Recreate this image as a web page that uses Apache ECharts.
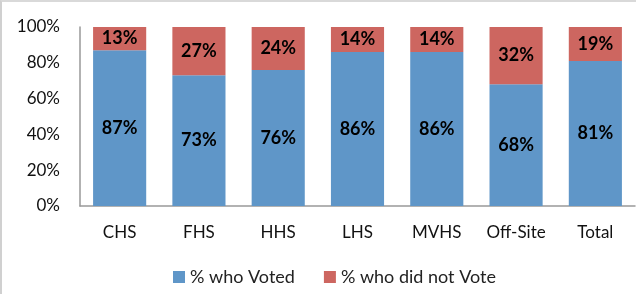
<!DOCTYPE html>
<html>
<head>
<meta charset="utf-8">
<script src="https://cdn.jsdelivr.net/npm/echarts@6/dist/echarts.min.js"></script>
<style>
  html, body { margin: 0; padding: 0; background: #fff; }
  #frame {
    position: absolute; left: 0; top: 0;
    width: 640px; height: 300px;
    border-left: 2px solid #d0d0d0;
    border-top: 2px solid #d9d9d9;
    box-sizing: border-box;
  }
  #chart { position: absolute; left: 0; top: 0; width: 636px; height: 294px; }
</style>
</head>
<body>
<div id="frame"></div>
<div id="chart"></div>
<script>
const categories = ["CHS", "FHS", "HHS", "LHS", "MVHS", "Off-Site", "Total"]
const voted = [87, 73, 76, 86, 86, 68, 81]
const notVoted = [13, 27, 24, 14, 14, 32, 19]
const yTicks = [0, 20, 40, 60, 80, 100]

const font = "Lato, 'Open Sans', sans-serif"
const labelStyle = {
  show: true,
  position: "inside",
  formatter: (p) => p.value + "%",
  color: "#000",
  fontFamily: font,
  fontWeight: "bold",
  fontSize: 18
}

const chart = echarts.init(document.getElementById("chart"), null, { renderer: "canvas" })
chart.setOption({
  animation: false,
  textStyle: { fontFamily: font },
  grid: { left: 80, right: 1, top: 27, bottom: 88, containLabel: false },
  legend: {
    bottom: 3,
    left: 168,
    itemWidth: 12,
    itemHeight: 12,
    itemGap: 29,
    icon: "rect",
    textStyle: { fontSize: 18, color: "#222", fontFamily: font, padding: [0, 0, 0, 0] },
    data: ["% who Voted", "% who did not Vote"]
  },
  xAxis: {
    type: "category",
    data: categories,
    axisLine: { lineStyle: { color: "#999", width: 1.5 } },
    axisTick: { show: false },
    axisLabel: { color: "#111", fontSize: 17, margin: 18, fontFamily: font }
  },
  yAxis: {
    type: "value",
    min: 0,
    max: 100,
    interval: 20,
    splitLine: { show: false },
    axisLine: { show: true, lineStyle: { color: "#999", width: 1.5 } },
    axisTick: { show: false },
    axisLabel: {
      color: "#111",
      fontSize: 17,
      margin: 20,
      fontFamily: font,
      formatter: (v) => (yTicks.includes(v) ? v + "%" : "")
    }
  },
  series: [
    {
      name: "% who Voted",
      type: "bar",
      stack: "total",
      barCategoryGap: "33%",
      itemStyle: { color: "#5F96C8" },
      label: labelStyle,
      data: voted
    },
    {
      name: "% who did not Vote",
      type: "bar",
      stack: "total",
      itemStyle: { color: "#CD6660" },
      label: labelStyle,
      data: notVoted
    }
  ]
})
</script>
</body>
</html>
